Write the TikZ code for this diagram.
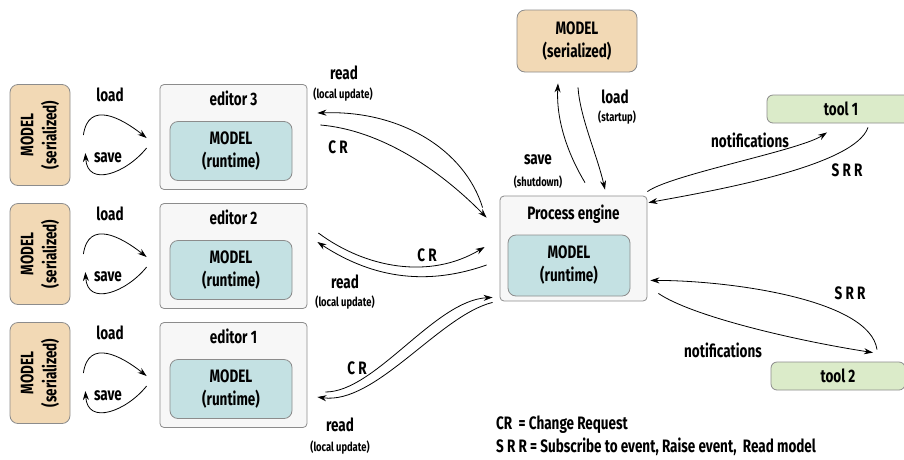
\documentclass[tikz,border=0pt]{standalone}
\usepackage{fontspec}
\setmainfont{Fira Sans}[FakeStretch=0.75]
\usetikzlibrary{arrows.meta,positioning}

\definecolor{sertan}{HTML}{F2D9B5}
\definecolor{rtblue}{HTML}{C4E1E3}
\definecolor{toolgreen}{HTML}{DBEBC9}
\definecolor{edgray}{HTML}{F7F7F7}
\definecolor{boxgray}{HTML}{8C8C8C}

\tikzset{
	serbox/.style={draw=boxgray,fill=sertan,rounded corners=8pt,line width=0.8pt,align=center},
	edbox/.style={draw=boxgray,fill=edgray,rounded corners=4pt,line width=0.8pt,minimum width=147pt,minimum height=105pt},
	rtbox/.style={draw=boxgray,fill=rtblue,rounded corners=8pt,line width=0.8pt,minimum width=122pt,minimum height=59pt,align=center},
	toolbox/.style={draw=boxgray,fill=toolgreen,rounded corners=6pt,line width=0.8pt,minimum height=28pt},
	flow/.style={-{Stealth[length=9pt,width=6pt]},line width=0.8pt},
	small/.style={font=\bfseries\fontsize{12.5}{14}\selectfont},
}

\begin{document}
\begin{tikzpicture}[x=1pt,y=-1pt,font=\bfseries\fontsize{18}{23}\selectfont]
	\useasboundingbox (0,0) rectangle (904,459);

	% three editors with their own serialized model
	\foreach \n/\y in {3/135,2/254,1/373}{
		\node (ser\n) [serbox,rotate=90,minimum width=101pt,minimum height=60pt] at (40,\y) {MODEL\\(serialized)};
		\node (ed\n) [edbox] at (233.5,\y+2) {};
		\node (edt\n) [below=7pt of ed\n.north,inner sep=0pt] {editor \n};
		\node (rt\n) [rtbox,above=9pt of ed\n.south,xshift=-2.5pt] {MODEL\\(runtime)};
		\draw [flow] ([shift={(13,0)}]ser\n.south) .. controls +(5,-35) and +(-25,-20) .. ([shift={(-13,1)}]ed\n.west);
		\draw [flow] ([shift={(-13,11)}]ed\n.west) .. controls +(-20,25) and +(2,35) .. ([shift={(15,18)}]ser\n.south);
		\node (load\n) at (110,\y-40) {load};
		\node (save\n) at (108,\y+23) {save};
	}

	% process engine
	\node (pe) [edbox] at (573.5,248.5) {};
	\node (pet) [below=9pt of pe.north,inner sep=0pt] {Process engine};
	\node (pert) [rtbox,above=5pt of pe.south,xshift=-4.5pt,minimum height=61pt] {MODEL\\(runtime)};
	\node (serp) [serbox,minimum width=120pt,minimum height=62pt] at (577,41) {MODEL\\(serialized)};

	% tools
	\node (tool1) [toolbox,minimum width=148pt] at (841,109) {tool 1};
	\node (tool2) [toolbox,minimum width=134pt] at (838,376) {tool 2};

	% editors <-> process engine
	\draw [flow] ([shift={(-17,12)}]pe.north west) .. controls +(-18,-58) and +(83,-3) .. ([shift={(10,-24)}]ed3.east);
	\draw [flow] ([shift={(13,-12)}]ed3.east) .. controls +(60,5) and +(-47,-48) .. ([shift={(-13,22)}]pe.north west);
	\draw [flow] ([shift={(11,-23)}]ed2.east) .. controls +(47,35) and +(-55,33) .. ([shift={(-15,-1.5)}]pe.west);
	\draw [flow] ([shift={(-13,16.5)}]pe.west) .. controls +(-57,20) and +(58,38) .. ([shift={(10,-14)}]ed2.east);
	\draw [flow] ([shift={(18,17)}]ed1.east) .. controls +(50,0) and +(-58,3) .. ([shift={(-7,-4)}]pe.south west);
	\draw [flow] ([shift={(-7,1)}]pe.south west) .. controls +(-53,13) and +(58,8) .. ([shift={(10,22)}]ed1.east);

	\node (read3) at (344,73) {read};
	\node (lu3) [small] at (343,95) {(local update)};
	\node (cr3) at (338,147) {C R};
	\node (cr2) at (427,255) {C R};
	\node (read2) at (345,282) {read};
	\node (lu2) [small] at (345,303) {(local update)};
	\node (cr1) at (357,368) {C R};
	\node (read1) at (340,425) {read};
	\node (lu1) [small] at (340,448) {(local update)};

	% process engine <-> serialized model
	\draw [flow] ([shift={(11.5,-13)}]pe.north) .. controls +(-15,-25) and +(-2,40) .. ([shift={(-19,11)}]serp.south);
	\draw [flow] ([shift={(1,15)}]serp.south) .. controls +(2,30) and +(-8,-35) .. ([shift={(31.5,-6)}]pe.north);
	\node (loadp) at (615,97) {load};
	\node (startup) [small] at (617,118) {(startup)};
	\node (savep) at (538,160) {save};
	\node (shutdown) [small] at (538,182) {(shutdown)};

	% process engine <-> tools
	\draw [flow] ([shift={(0,-4)}]pe.north east) .. controls +(23,-17) and +(-27,18) .. ([shift={(-14,9)}]tool1.south);
	\draw [flow] ([shift={(27,4)}]tool1.south) .. controls +(-13,38) and +(72,-13) .. ([shift={(1,7)}]pe.north east);
	\draw [flow] ([shift={(39,-12)}]tool2.north) .. controls +(-7,-50) and +(80,0) .. ([shift={(3,-21)}]pe.south east);
	\draw [flow] ([shift={(11,-8)}]pe.south east) .. controls +(32,22) and +(-83,-13) .. ([shift={(35,-9)}]tool2.north);
	\node (not1) at (750,140) {notifications};
	\node (srr1) at (847,170) {S R R};
	\node (srr2) at (850,293) {S R R};
	\node (not2) at (723,350) {notifications};

	% legend
	\node (leg1) [anchor=west,inner sep=0pt] at (496,425) {CR\ \ = Change Request};
	\node (leg2) [anchor=west,inner sep=0pt] at (496,447) {S R R = Subscribe to event, Raise event,\ \ Read model};
\end{tikzpicture}
\end{document}
